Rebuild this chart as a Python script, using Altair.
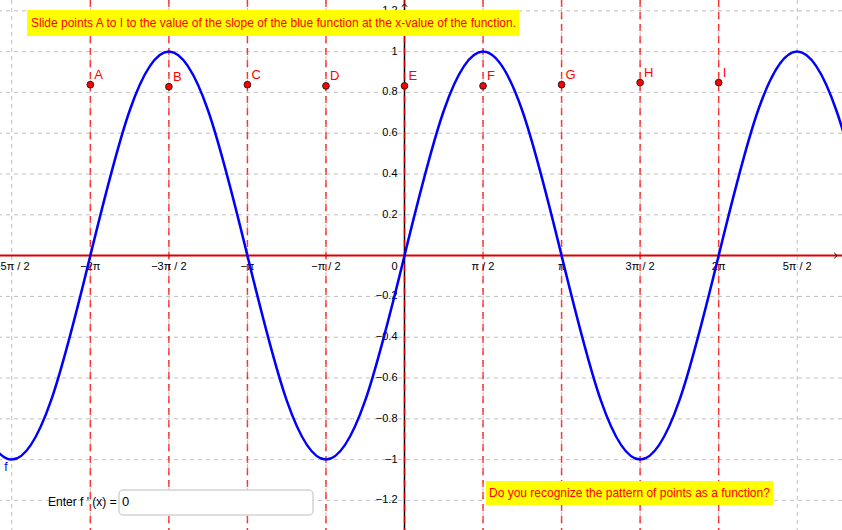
import math
import altair as alt
import pandas as pd

PI = math.pi
FONT = "Liberation Sans"

# visible window of the graphics view
X_MIN, X_MAX = -8.09, 8.75
Y_MIN, Y_MAX = -1.345, 1.253

# blue function f, read every quarter-pi from -3π to 3π
f_quarter_steps = list(range(-12, 13))
f_values = [0, -0.71, -1, -0.71, 0, 0.71, 1, 0.71,
            0, -0.71, -1, -0.71, 0, 0.71, 1, 0.71,
            0, -0.71, -1, -0.71, 0, 0.71, 1, 0.71, 0]

# movable points A..I (x in half-pi steps)
point_names = ["A", "B", "C", "D", "E", "F", "G", "H", "I"]
point_half_pi = [-4, -3, -2, -1, 0, 1, 2, 3, 4]
point_values = [0.838, 0.828, 0.838, 0.832, 0.832, 0.832, 0.838, 0.848, 0.848]

# axis ticks
x_tick_half_pi = [-5, -4, -3, -2, -1, 0, 1, 2, 3, 4, 5]
x_tick_labels = ["−5π / 2", "−2π", "−3π / 2", "−π", "−π / 2", "0",
                 "π / 2", "π", "3π / 2", "2π", "5π / 2"]
y_tick_values = [-1.2, -1.0, -0.8, -0.6, -0.4, -0.2, 0.2, 0.4, 0.6, 0.8, 1.0, 1.2]
y_tick_labels = ["−1.2", "−1", "−0.8", "−0.6", "−0.4", "−0.2",
                 "0.2", "0.4", "0.6", "0.8", "1", "1.2"]
y_grid_values = [-1.2, -1.0, -0.8, -0.6, -0.4, -0.2, 0.0, 0.2, 0.4, 0.6, 0.8, 1.0, 1.2]

title_text = "Slide points A to I to the value of the slope of the blue function at the x-value of the function."
question_text = "Do you recognize the pattern of points as a function?"
input_label = "Enter f ' (x) ="
input_value = "0"

xs = alt.Scale(domain=[X_MIN, X_MAX], nice=False, zero=False)
ys = alt.Scale(domain=[Y_MIN, Y_MAX], nice=False, zero=False)

f_df = pd.DataFrame({"x": [k * PI / 4 for k in f_quarter_steps], "y": f_values})
pts_df = pd.DataFrame({"name": point_names,
                       "x": [k * PI / 2 for k in point_half_pi],
                       "y": point_values})
xt_df = pd.DataFrame({"x": [k * PI / 2 for k in x_tick_half_pi],
                      "y": 0.0, "label": x_tick_labels})
yt_df = pd.DataFrame({"x": 0.0, "y": y_tick_values, "label": y_tick_labels})
yg_df = pd.DataFrame({"y": y_grid_values})
origin_df = pd.DataFrame({"x": [0.0], "y": [0.0]})


def X():
    return alt.X("x:Q", scale=xs, axis=None)


def Y():
    return alt.Y("y:Q", scale=ys, axis=None)


grid_v = alt.Chart(xt_df).mark_rule(color="#c0c0c0", strokeWidth=1, strokeDash=[4, 4]).encode(x=X())
grid_h = alt.Chart(yg_df).mark_rule(color="#c0c0c0", strokeWidth=1, strokeDash=[4, 4]).encode(y=Y())

y_axis = alt.Chart(origin_df).mark_rule(color="black", strokeWidth=1.5).encode(x=X())
red_guides = alt.Chart(pts_df).mark_rule(
    color="#ff0000", opacity=0.75, strokeWidth=1.5, strokeDash=[7, 5]
).encode(x=X())
x_axis = alt.Chart(origin_df).mark_rule(color="#dd0000", strokeWidth=2).encode(y=Y())

arrow_path = "M -1 -1 L 0 0 L -1 1"
x_arrow = alt.Chart(origin_df).mark_point(
    shape=arrow_path, filled=False, color="black", size=30, strokeWidth=1, opacity=1
).encode(x=alt.value(837), y=Y())
y_arrow = alt.Chart(origin_df).mark_point(
    shape=arrow_path, filled=False, color="black", size=30, strokeWidth=1, angle=270, opacity=1
).encode(x=X(), y=alt.value(4))

curve = alt.Chart(f_df).mark_line(
    color="#0000ff", strokeWidth=2.5, interpolate="natural", clip=True
).encode(x=X(), y=Y())

points = alt.Chart(pts_df).mark_point(
    shape="circle", filled=True, fill="#ff0000", stroke="#222222",
    strokeWidth=1, size=45, opacity=1
).encode(x=X(), y=Y())
point_labels = alt.Chart(pts_df).mark_text(
    color="#ff0000", font=FONT, fontSize=13, align="left", baseline="middle", dx=4, dy=-10
).encode(x=X(), y=Y(), text="label_name:N").transform_calculate(label_name="datum.name")

x_labels = alt.Chart(xt_df).transform_filter("datum.label != '0'").mark_text(
    font=FONT, fontSize=11, color="black", baseline="middle", dy=11
).encode(x=X(), y=Y(), text="label:N")
zero_label = alt.Chart(xt_df).transform_filter("datum.label == '0'").mark_text(
    font=FONT, fontSize=11, color="black", baseline="middle", align="right", dx=-7, dy=11
).encode(x=X(), y=Y(), text="label:N")
y_labels = alt.Chart(yt_df).mark_text(
    font=FONT, fontSize=11, color="black", baseline="middle", align="right", dx=-7
).encode(x=X(), y=Y(), text="label:N")

f_label = alt.Chart(origin_df).mark_text(
    text="f", font=FONT, fontSize=12, color="#0000ff", align="center", baseline="middle"
).encode(x=alt.value(6), y=alt.value(467))

title_box = alt.Chart(origin_df).mark_rect(color="#ffff00").encode(
    x=alt.value(27), x2=alt.value(519), y=alt.value(10), y2=alt.value(36))
title = alt.Chart(origin_df).mark_text(
    text=title_text, font=FONT, fontSize=12, color="#ff0000", align="left", baseline="middle"
).encode(x=alt.value(31), y=alt.value(23))

question_box = alt.Chart(origin_df).mark_rect(color="#ffff00").encode(
    x=alt.value(486), x2=alt.value(773), y=alt.value(481), y2=alt.value(505))
question = alt.Chart(origin_df).mark_text(
    text=question_text, font=FONT, fontSize=12, color="#ff0000", align="left", baseline="middle"
).encode(x=alt.value(489), y=alt.value(493))

input_text = alt.Chart(origin_df).mark_text(
    text=input_label, font=FONT, fontSize=12, color="black", align="left", baseline="middle"
).encode(x=alt.value(48), y=alt.value(502))
input_box = alt.Chart(origin_df).mark_rect(
    fill="white", stroke="#d4d4d4", strokeWidth=1.5, cornerRadius=4
).encode(x=alt.value(119), x2=alt.value(313), y=alt.value(490), y2=alt.value(515))
input_val = alt.Chart(origin_df).mark_text(
    text=input_value, font=FONT, fontSize=13, color="black", align="left", baseline="middle"
).encode(x=alt.value(122), y=alt.value(502))

chart = alt.layer(
    grid_v, grid_h, y_axis, red_guides, x_axis, x_arrow, y_arrow,
    x_labels, zero_label, y_labels,
    curve, points, point_labels, f_label,
    title_box, title, question_box, question,
    input_text, input_box, input_val,
).properties(
    width=842, height=530, padding=0,
    autosize=alt.AutoSizeParams(type="none"),
    background="white",
).configure_view(stroke=None)

chart.save("out.html", embed_options={"renderer": "svg", "actions": False})
